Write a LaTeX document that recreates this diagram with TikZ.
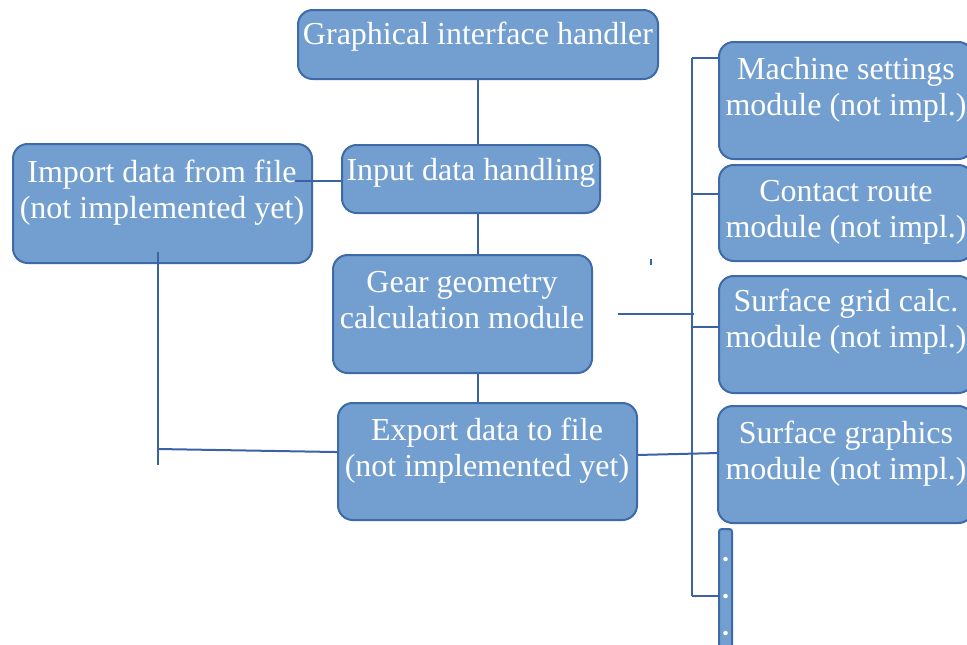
\documentclass[tikz,border=0pt]{standalone}
\usepackage{fontspec}
\setmainfont{Liberation Serif}
\usetikzlibrary{calc}
\definecolor{boxfill}{RGB}{114,159,207}
\definecolor{boxline}{RGB}{62,106,168}
\definecolor{linkc}{RGB}{58,98,165}
\begin{document}
\begin{tikzpicture}[x=0.75pt,y=-0.75pt,
  box/.style={draw=boxline, fill=boxfill, line width=1.5pt, rounded corners=11pt, inner sep=0pt},
  txt/.style={text=white, font=\fontsize{24}{27}\selectfont, align=center, inner sep=0pt, anchor=base},
  link/.style={draw=linkc, line width=1.5pt}]
\useasboundingbox (0,0) rectangle (967,644);

% boxes
\node[box, minimum width=270pt, minimum height=51.75pt] (gih) at (478,44.5) {};
\node[box, minimum width=193.5pt, minimum height=51pt] (input) at (471,179) {};
\node[box, minimum width=224.25pt, minimum height=89.25pt] (import) at (162.5,203.5) {};
\node[box, minimum width=194.25pt, minimum height=88.5pt] (gear) at (462.5,314) {};
\node[box, minimum width=224.25pt, minimum height=87.75pt] (export) at (487.5,461.5) {};
\node[box, minimum width=190.5pt, minimum height=87.75pt] (machine) at (846,100.5) {};
\node[box, minimum width=190.5pt, minimum height=72pt] (contact) at (846,213) {};
\node[box, minimum width=190.5pt, minimum height=87.75pt] (grid) at (846,334.5) {};
\node[box, minimum width=191.25pt, minimum height=87.75pt] (graphics) at (845.5,464.5) {};
\node[box, rounded corners=2pt, minimum width=9.75pt, minimum height=98.25pt] (bar) at (725.5,594.5) {};

% texts (base anchor = baseline of the last line)
\node[txt] (tgih) at (478,44) {Graphical interface handler};
\node[txt] (tinput) at (471,180) {Input data handling};
\node[txt] (timport) at (162,218) {Import data from file\\(not implemented yet)};
\node[txt] (tgear) at (462,328) {Gear geometry\\calculation module};
\node[txt] (texport) at (487,476) {Export data to file\\(not implemented yet)};
\node[txt] (tmachine) at (846,115) {Machine settings\\module (not impl.)};
\node[txt] (tcontact) at (846,237) {Contact route\\module (not impl.)};
\node[txt] (tgrid) at (846,347) {Surface grid calc.\\module (not impl.)};
\node[txt] (tgraphics) at (846,479) {Surface graphics\\module (not impl.)};

% dots in the bar
\fill[white] (725.5,559) circle (1.7pt);
\fill[white] (725.5,596) circle (1.7pt);
\fill[white] (725.5,633) circle (1.7pt);

% central column
\draw[link] (gih.south) -- (input.north -| gih.south);
\draw[link] (input.south -| gih.south) -- (gear.north -| gih.south);
\draw[link] (gear.south -| gih.south) -- (export.north -| gih.south);

% import connectors
\coordinate (impR) at (295,181);
\draw[link] (impR) -- (input.west |- impR);
\coordinate (impD) at (158,252);
\coordinate (impB) at (158,465);
\coordinate (impH) at (158,449);
\draw[link] (impD) -- (impB);
\draw[link] (impH) -- ([yshift=7.1pt]export.west);

% right bus
\coordinate (busT) at (692,58);
\coordinate (busB) at (692,596);
\coordinate (busC) at (692,194);
\coordinate (busG) at (692,327);
\draw[link] (busT) -- (busB);
\draw[link] (busT) -- (busT -| machine.west);
\draw[link] (busC) -- (busC -| contact.west);
\draw[link] (busG) -- (busG -| grid.west);
\draw[link] (busB) -- (busB -| bar.west);
\coordinate (gearR) at (694,314);
\draw[link] ([xshift=18.75pt]gear.east) -- (gearR);
\draw[link] ([yshift=4.9pt]export.east) -- ([yshift=8.6pt]graphics.west);

% small tick
\coordinate (tickA) at (651,259);
\coordinate (tickB) at (651,265);
\draw[link, line width=1.2pt] (tickA) -- (tickB);
\end{tikzpicture}
\end{document}
